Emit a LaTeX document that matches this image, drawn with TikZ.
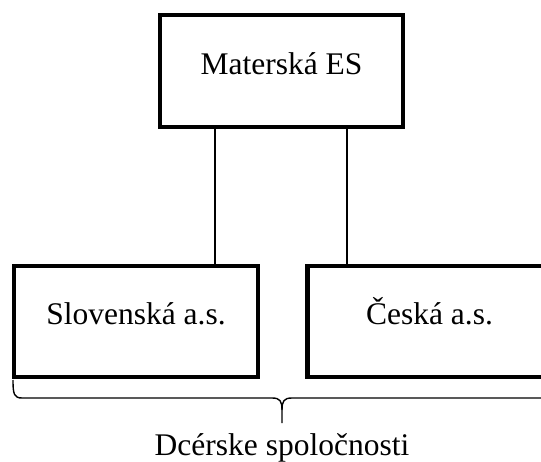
\documentclass[tikz,border=0pt]{standalone}
\usepackage{fontspec}
\setmainfont{Liberation Serif}
\begin{document}
\begin{tikzpicture}[x=1pt,y=-1pt,
  box/.style={draw, line width=4.5pt, minimum width=243pt, minimum height=111pt, inner sep=0pt, text height=20pt, text depth=14pt, font=\fontsize{31.5}{37}\selectfont},
  conn/.style={line width=1.3pt},
  bracestyle/.style={line width=1.4pt},
  lbl/.style={font=\fontsize{31.5}{37}\selectfont, inner sep=0pt, anchor=base}]
\useasboundingbox (0,0) rectangle (541,461);
\clip (0,0) rectangle (541,461);
\node[box, minimum height=112pt] (mat) at (281.5,71) {Materská ES};
\node[box, minimum width=244pt] (svk) at (136,321.5) {Slovenská a.s.};
\node[box, minimum width=244pt] (cze) at (429.5,321.5) {Česká a.s.};
\draw[conn] ([xshift=-66.5pt]mat.south) -- ([xshift=-66.5pt]mat.south |- svk.north);
\draw[conn] ([xshift=65.5pt]mat.south) -- ([xshift=65.5pt]mat.south |- cze.north);
\coordinate (bl) at (13,380);
\coordinate (br) at (551,380);
\coordinate (bm) at (282,410);
\coordinate (bt) at (282,423);
\draw[bracestyle] (bl) .. controls (13,394) and (14,398) .. (22,398) -- (272,398) .. controls (280,398) and (282,401) .. (bm) -- (bt);
\draw[bracestyle] (bm) .. controls (282,401) and (284,398) .. (292,398) -- (542,398) .. controls (550,398) and (551,394) .. (br);
\node[lbl] (dcer) at (282,455) {Dcérske spoločnosti};
\end{tikzpicture}
\end{document}
